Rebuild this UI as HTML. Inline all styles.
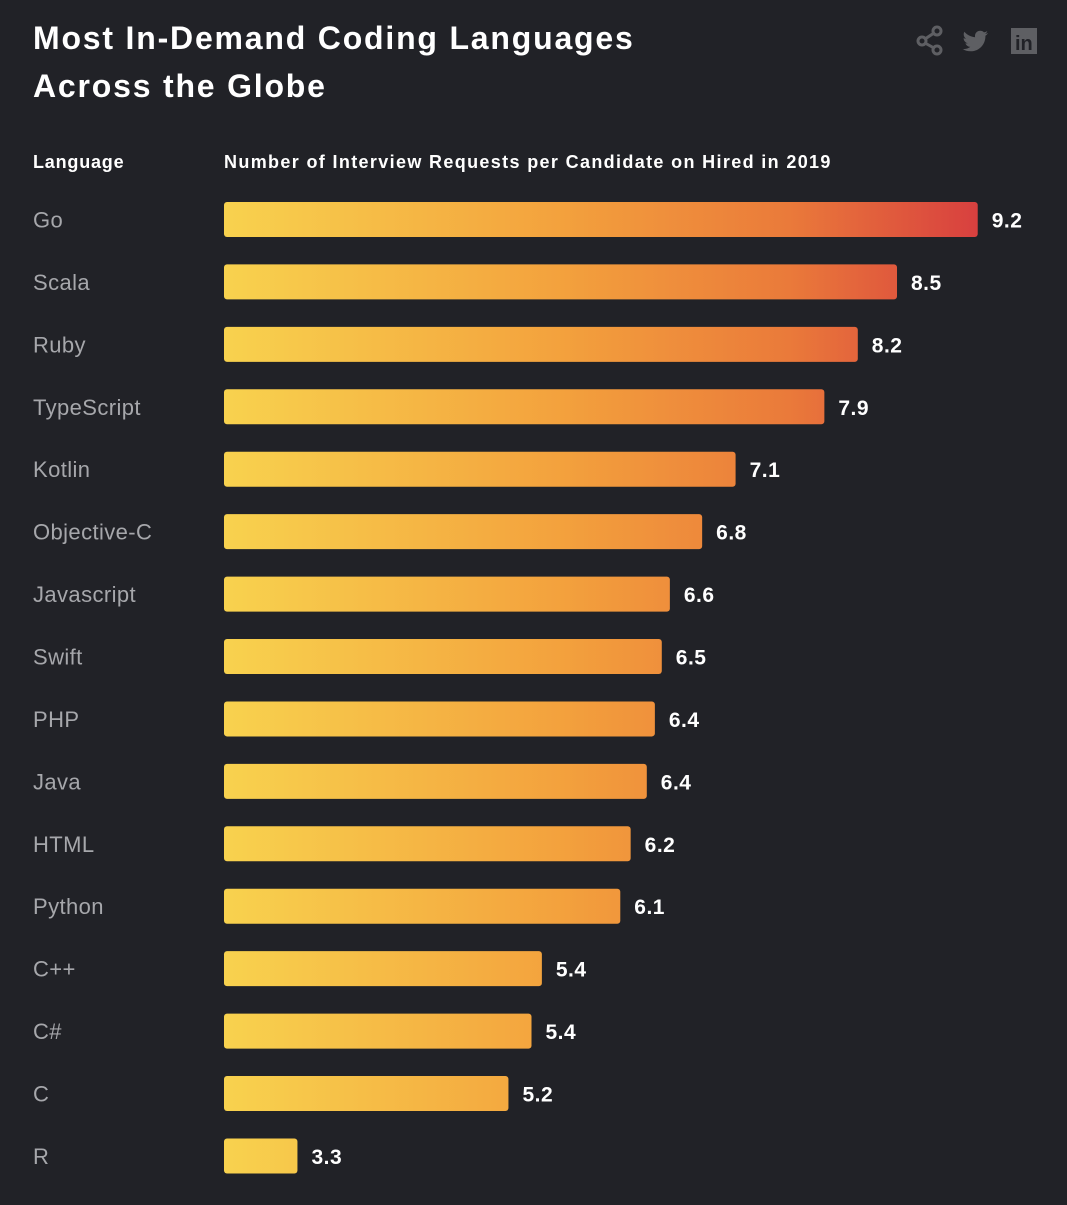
<!DOCTYPE html>
<html><head><meta charset="utf-8"><style>
html,body{margin:0;padding:0;background:#212227;}
body{width:1067px;height:1200px;overflow:hidden;font-family:"Liberation Sans",sans-serif;}
</style></head><body>
<svg width="1067" height="1200" xmlns="http://www.w3.org/2000/svg">
<defs>
<linearGradient id="g" gradientUnits="userSpaceOnUse" x1="224" y1="0" x2="977" y2="0">
<stop offset="0" stop-color="#f8d24e"/><stop offset="0.45" stop-color="#f3a13d"/><stop offset="0.75" stop-color="#ea7a3a"/><stop offset="1" stop-color="#d8403f"/>
</linearGradient>
</defs>
<rect width="1067" height="1200" fill="#212227"/>
<text x="33" y="49" fill="#fff" font-size="32" font-weight="bold" letter-spacing="1.8">Most In-Demand Coding Languages</text>
<text x="33" y="97" fill="#fff" font-size="32" font-weight="bold" letter-spacing="1.8">Across the Globe</text>
<g stroke="#5e5f63" stroke-width="3" fill="none">
<circle cx="922" cy="41" r="4"/><circle cx="937" cy="31" r="4"/><circle cx="937" cy="50" r="4"/>
<line x1="925" y1="39" x2="934" y2="33"/><line x1="925" y1="43" x2="934" y2="48"/></g>
<path fill="#5e5f63" d="M988 33c-1 .5-2 .8-3 .9 1-.7 1.9-1.6 2.3-2.8-1 .6-2.1 1-3.3 1.3-1-1-2.3-1.6-3.8-1.6-2.9 0-5.2 2.3-5.2 5.2 0 .4 0 .8.1 1.2-4.3-.2-8.1-2.3-10.7-5.4-.4.8-.7 1.7-.7 2.6 0 1.8.9 3.4 2.3 4.3-.9 0-1.7-.3-2.4-.6 0 2.5 1.800 4.6 4.2 5.1-.4.1-.9.2-1.4.2-.3 0-.7 0-1-.1.7 2 2.6 3.6 4.9 3.6-1.8 1.4-4 2.2-6.5 2.2-.4 0-.8 0-1.2-.1 2.3 1.5 5.1 2.3 8 2.3 9.6 0 14.8-7.9 14.8-14.8v-.7c1-.7 1.9-1.6 2.6-2.7z"/>
<g><rect x="1011" y="28" width="26" height="26" fill="#5e5f63"/>
<text x="1015" y="50" fill="#212227" font-size="20" font-weight="bold">in</text></g>
<text x="33" y="168" fill="#fff" font-size="18" font-weight="bold" letter-spacing="0.8">Language</text>
<text x="224" y="168" fill="#fff" font-size="18" font-weight="bold" letter-spacing="1.35">Number of Interview Requests per Candidate on Hired in 2019</text>
<g id="bars"></g>
</svg>
<script>
const categories=["Go","Scala","Ruby","TypeScript","Kotlin","Objective-C","Javascript","Swift","PHP","Java","HTML","Python","C++","C#","C","R"];
const values=[9.2,8.5,8.16,7.87,7.1,6.81,6.53,6.46,6.4,6.33,6.19,6.1,5.42,5.33,5.13,3.3];
const labels=["9.2","8.5","8.2","7.9","7.1","6.8","6.6","6.5","6.4","6.4","6.2","6.1","5.4","5.4","5.2","3.3"];
const NS="http://www.w3.org/2000/svg";
const x0=224, dmin=2.663, k=115.3;
function xScale(v){return x0+(v-dmin)*k;}
function yScale(i){return 219.5+i*62.43;}
const g=document.getElementById('bars');
categories.forEach((c,i)=>{
  const cy=yScale(i), xe=xScale(values[i]);
  const t=document.createElementNS(NS,'text');
  
  
  t.setAttribute('x',33);t.setAttribute('y',cy+8);t.setAttribute('fill','#a6a7ab');t.setAttribute('font-size','22');t.setAttribute('letter-spacing','0.4');
  t.textContent=c;g.appendChild(t);
  const r=document.createElementNS(NS,'rect');
  
  
  r.setAttribute('x',x0);r.setAttribute('y',cy-17.5);r.setAttribute('width',xe-x0);r.setAttribute('height',35);r.setAttribute('rx',3);r.setAttribute('fill','url(#g)');
  g.appendChild(r);
  const v=document.createElementNS(NS,'text');
  
  
  v.setAttribute('x',xe+14);v.setAttribute('y',cy+8);v.setAttribute('fill','#fff');v.setAttribute('font-size','21');v.setAttribute('font-weight','bold');v.setAttribute('letter-spacing','0.5');
  v.textContent=labels[i];g.appendChild(v);
});
</script>
</body></html>
